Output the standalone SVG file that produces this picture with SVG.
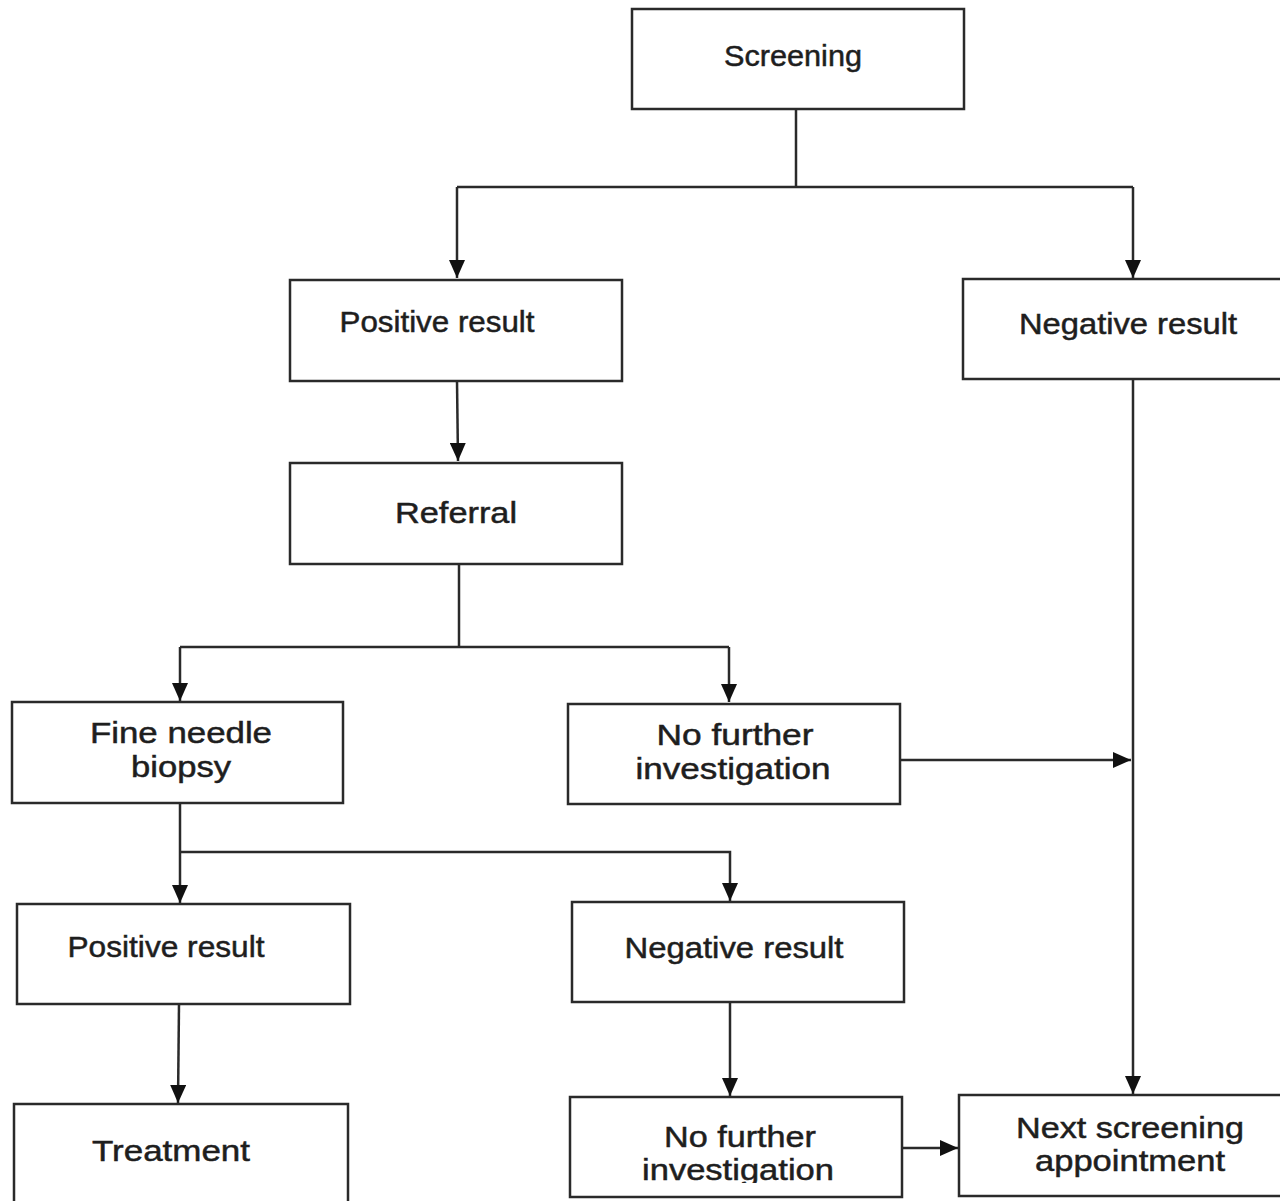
<svg xmlns="http://www.w3.org/2000/svg" width="1280" height="1201" viewBox="0 0 1280 1201">
<style>
.box{fill:#fff;stroke:#2a2a2a;stroke-width:2.5}
.t{font-family:"Liberation Sans",Arial,sans-serif;font-size:30px;fill:#1e1e1e;stroke:#1e1e1e;stroke-width:0.5;text-anchor:middle}
.c{fill:none;stroke:#2a2a2a;stroke-width:2.5}
</style>
<defs>
<marker id="ah" markerUnits="userSpaceOnUse" markerWidth="18" markerHeight="16" refX="18" refY="8" orient="auto">
<path d="M0,0 L18,8 L0,16 z" fill="#111"/>
</marker>
<clipPath id="clipB"><rect x="0" y="0" width="1280" height="1183"/></clipPath>
</defs>
<rect width="1280" height="1201" fill="#fff"/>
<g id="connectors">
<path class="c" d="M796,109 V187"/>
<path class="c" d="M457,187 H1133"/>
<path class="c" d="M457,187 V278" marker-end="url(#ah)"/>
<path class="c" d="M1133,187 V278" marker-end="url(#ah)"/>
<path class="c" d="M457,381 L458,461" marker-end="url(#ah)"/>
<path class="c" d="M459,564 V647"/>
<path class="c" d="M180,647 H729"/>
<path class="c" d="M180,647 V701" marker-end="url(#ah)"/>
<path class="c" d="M729,647 V702" marker-end="url(#ah)"/>
<path class="c" d="M900,760 H1131" marker-end="url(#ah)"/>
<path class="c" d="M1133,379 V1094" marker-end="url(#ah)"/>
<path class="c" d="M180,803 V903" marker-end="url(#ah)"/>
<path class="c" d="M180,852 H730 V901" marker-end="url(#ah)"/>
<path class="c" d="M179,1004 L178,1103" marker-end="url(#ah)"/>
<path class="c" d="M730,1002 V1096" marker-end="url(#ah)"/>
<path class="c" d="M902,1148 H958" marker-end="url(#ah)"/>
</g>
<g id="screening">
<rect class="box" x="632" y="9" width="332" height="100"/>
<text class="t" x="793" y="66" textLength="138" lengthAdjust="spacingAndGlyphs">Screening</text>
</g>
<g id="positive1">
<rect class="box" x="290" y="280" width="332" height="101"/>
<text class="t" x="437" y="332" textLength="195" lengthAdjust="spacingAndGlyphs">Positive result</text>
</g>
<g id="negative1">
<rect class="box" x="963" y="279" width="340" height="100"/>
<text class="t" x="1128" y="334" textLength="218" lengthAdjust="spacingAndGlyphs">Negative result</text>
</g>
<g id="referral">
<rect class="box" x="290" y="463" width="332" height="101"/>
<text class="t" x="456" y="523" font-size="32" textLength="122" lengthAdjust="spacingAndGlyphs">Referral</text>
</g>
<g id="fnb">
<rect class="box" x="12" y="702" width="331" height="101"/>
<text class="t" x="181" y="743" font-size="32" textLength="182" lengthAdjust="spacingAndGlyphs">Fine needle</text>
<text class="t" x="181" y="777" font-size="32" textLength="100" lengthAdjust="spacingAndGlyphs">biopsy</text>
</g>
<g id="nfi1">
<rect class="box" x="568" y="704" width="332" height="100"/>
<text class="t" x="735" y="745" font-size="32" textLength="157" lengthAdjust="spacingAndGlyphs">No further</text>
<text class="t" x="733" y="779" font-size="32" textLength="195" lengthAdjust="spacingAndGlyphs">investigation</text>
</g>
<g id="positive2">
<rect class="box" x="17" y="904" width="333" height="100"/>
<text class="t" x="166" y="957" textLength="197" lengthAdjust="spacingAndGlyphs">Positive result</text>
</g>
<g id="negative2">
<rect class="box" x="572" y="902" width="332" height="100"/>
<text class="t" x="734" y="958" textLength="219" lengthAdjust="spacingAndGlyphs">Negative result</text>
</g>
<g id="treatment">
<rect class="box" x="14" y="1104" width="334" height="110"/>
<text class="t" x="171" y="1161" font-size="32" textLength="158" lengthAdjust="spacingAndGlyphs">Treatment</text>
</g>
<g id="nfi2">
<rect class="box" x="570" y="1097" width="332" height="100"/>
<text class="t" x="740" y="1147" font-size="32" textLength="152" lengthAdjust="spacingAndGlyphs">No further</text>
<text class="t" x="738" y="1180" font-size="32" textLength="192" lengthAdjust="spacingAndGlyphs" clip-path="url(#clipB)">investigation</text>
</g>
<g id="nsa">
<rect class="box" x="959" y="1095" width="340" height="101"/>
<text class="t" x="1130" y="1138" font-size="32" textLength="228" lengthAdjust="spacingAndGlyphs">Next screening</text>
<text class="t" x="1130" y="1171" font-size="32" textLength="190" lengthAdjust="spacingAndGlyphs">appointment</text>
</g>
</svg>
